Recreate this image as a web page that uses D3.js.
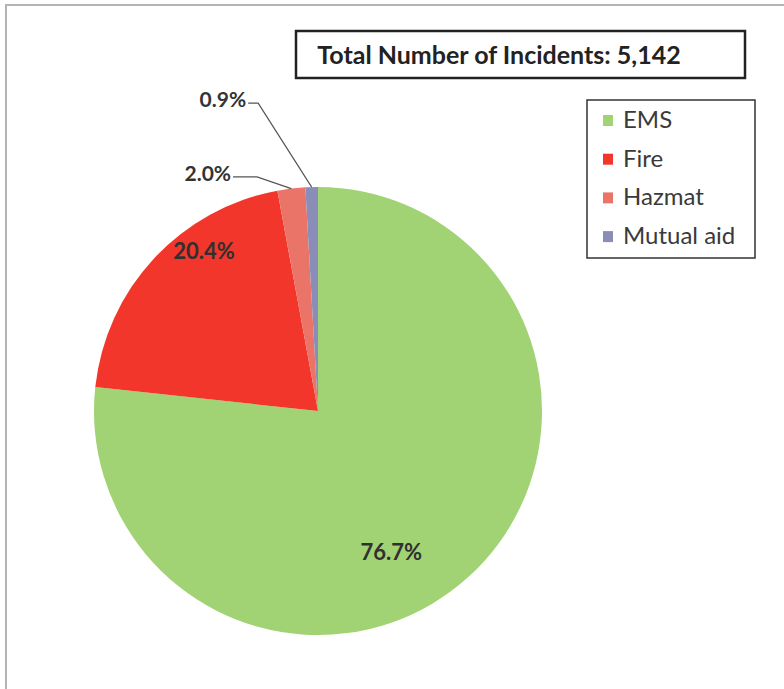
<!DOCTYPE html>
<html>
<head>
<meta charset="utf-8">
<script src="https://cdn.jsdelivr.net/npm/d3@7"></script>
<style>
  body { margin: 0; background: #fff; }
  svg { display: block; font-family: Lato, "Open Sans", sans-serif; }
</style>
</head>
<body>
<svg id="chart" width="784" height="689"></svg>
<script>
// incident types and their share of the total (percent)
const categories = ['EMS', 'Fire', 'Hazmat', 'Mutual aid'];
const shares = [76.7, 20.4, 2.0, 0.9];
const colors = ['#a1d273', '#f2362b', '#eb7469', '#8a8db8'];
const totalIncidents = 5142;

const svg = d3.select('#chart');
const cx = 318, cy = 411, radius = 224;

// outer frame (only top and left edges show in the scan)
svg.append('path')
    .attr('d', 'M6,689 L6,5 L784,5')
    .attr('fill', 'none')
    .attr('stroke', '#b4b4b4')
    .attr('stroke-width', 2);

const data = categories.map((c, i) => ({ name: c, value: shares[i], color: colors[i] }));

const pie = d3.pie()
    .sort(null)
    .value(d => d.value);

const arc = d3.arc()
    .innerRadius(0)
    .outerRadius(radius);

const arcs = pie(data);

const g = svg.append('g')
    .attr('transform', `translate(${cx}, ${cy})`);

g.selectAll('.slice')
    .data(arcs)
    .enter().append('path')
    .attr('class', 'slice')
    .attr('d', arc)
    .attr('fill', d => d.data.color)
    .attr('stroke', 'none');

// helper: point at angle a (radians, clockwise from 12 o'clock) and radius r
const polar = (a, r) => [r * Math.sin(a), -r * Math.cos(a)];
const deg = Math.PI / 180;
const mid = d => (d.startAngle + d.endAngle) / 2;

// labels inside big slices, placed a bit past their mid angle like Excel did
const inside = { 'EMS': { r: 0.71, shift: 14.5 }, 'Fire': { r: 0.875, shift: 11.6 } };
// labels outside thin slices, with a leader line
const outside = { 'Hazmat': { r: 1.08, a: -14.6, tail: 24 }, 'Mutual aid': { r: 1.40, a: -11, tail: 10 } };

const fmt = d => d.data.value.toFixed(1) + '%';

arcs.forEach(d => {
    const name = d.data.name;
    if (inside[name]) {
        const o = inside[name];
        const [x, y] = polar(mid(d) + o.shift * deg, radius * o.r);
        g.append('text')
            .attr('x', x)
            .attr('y', y)
            .attr('dy', '0.35em')
            .attr('text-anchor', 'middle')
            .attr('font-size', 22)
            .attr('font-weight', 'bold')
            .attr('fill', '#2f3030')
            .text(fmt(d));
    } else {
        const o = outside[name];
        const p0 = polar(mid(d), radius);
        const p1 = polar(o.a * deg, radius * o.r);
        const p2 = [p1[0] - o.tail, p1[1]];
        g.append('path')
            .attr('d', `M${p0[0]},${p0[1]} L${p1[0]},${p1[1]} L${p2[0]},${p2[1]}`)
            .attr('fill', 'none')
            .attr('stroke', '#555')
            .attr('stroke-width', 1.2);
        g.append('text')
            .attr('x', p2[0] - 2)
            .attr('y', p2[1] + 4)
            .attr('text-anchor', 'end')
            .attr('font-size', 21)
            .attr('font-weight', 'bold')
            .attr('fill', '#333')
            .text(fmt(d));
    }
});

// title box
svg.append('rect')
    .attr('x', 296)
    .attr('y', 31)
    .attr('width', 449)
    .attr('height', 47)
    .attr('fill', '#fff')
    .attr('stroke', '#222')
    .attr('stroke-width', 2.5);

svg.append('text')
    .attr('x', 499)
    .attr('y', 64)
    .attr('text-anchor', 'middle')
    .attr('font-size', 25)
    .attr('font-weight', 'bold')
    .attr('fill', '#222')
    .text('Total Number of Incidents: ' + d3.format(',')(totalIncidents));

// legend
const legend = svg.append('g')
    .attr('transform', 'translate(587, 100)');

legend.append('rect')
    .attr('width', 168)
    .attr('height', 158)
    .attr('fill', '#fff')
    .attr('stroke', '#333')
    .attr('stroke-width', 1.5);

const item = legend.selectAll('.item')
    .data(data)
    .enter().append('g')
    .attr('class', 'item')
    .attr('transform', (_, i) => `translate(16, ${27 + i * 38.7})`);

item.append('rect')
    .attr('x', 0)
    .attr('y', -12)
    .attr('width', 10)
    .attr('height', 11)
    .attr('fill', d => d.color);

item.append('text')
    .attr('x', 20)
    .attr('y', 1)
    .attr('font-size', 24)
    .attr('fill', '#3a3a3a')
    .text(d => d.name);
</script>
</body>
</html>
